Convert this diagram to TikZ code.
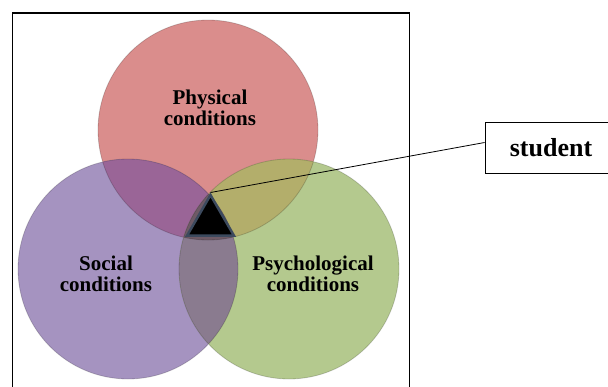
\documentclass[tikz,border=0pt]{standalone}
\usepackage{fontspec}
\setmainfont{Liberation Serif}
\usetikzlibrary{shapes.geometric}
\definecolor{physRed}{HTML}{DA8D8C}
\definecolor{socPurple}{HTML}{A593C0}
\definecolor{psyGreen}{HTML}{B4C98E}
\definecolor{redPurple}{HTML}{9A6597}
\definecolor{redGreen}{HTML}{B3AE6B}
\definecolor{purpleGreen}{HTML}{8A7B8F}
\definecolor{tripleMix}{HTML}{6E5A66}
\definecolor{triBorder}{HTML}{3C4A5E}

\begin{document}
\begin{tikzpicture}[x=1pt,y=-1pt,
  lbl/.style={font=\fontsize{21}{21}\selectfont\bfseries, align=center, inner sep=0pt},
  rim/.style={draw=black, draw opacity=0.18, line width=0.8pt}]
% Venn of three conditions round the student
\clip (0,0) rectangle (608,386);
\def\rC{110}
\coordinate (phys) at (208,130);
\coordinate (soc) at (128,269);
\coordinate (psy) at (289,269);
% outer frame
\draw[line width=1.3pt] (12.5,13) rectangle (409.5,392);
% plain circles
\fill[physRed] (phys) circle (\rC);
\fill[socPurple] (soc) circle (\rC);
\fill[psyGreen] (psy) circle (\rC);
% overlaps with the red one
\begin{scope}
  \clip (phys) circle (\rC);
  \fill[redPurple] (soc) circle (\rC);
  \fill[redGreen] (psy) circle (\rC);
\end{scope}
% purple and green
\begin{scope}
  \clip (soc) circle (\rC);
  \fill[purpleGreen] (psy) circle (\rC);
\end{scope}
% all three
\begin{scope}
  \clip (phys) circle (\rC);
  \clip (soc) circle (\rC);
  \fill[tripleMix] (psy) circle (\rC);
\end{scope}
\draw[rim] (phys) circle (\rC) (soc) circle (\rC) (psy) circle (\rC);
\node[lbl] (physical) at (210,108) {Physical\\conditions};
\node[lbl] (social) at (106,274) {Social\\conditions};
\node[lbl] (psycho) at (313,274) {Psychological\\conditions};
% the student in the middle
\node[regular polygon, regular polygon sides=3, minimum size=54, inner sep=0pt,
  fill=black, draw=triBorder, line width=2.5pt] (tri) at (210.5,222) {};
\node[draw, line width=0.8pt, minimum width=132, minimum height=51,
  font=\fontsize{26}{26}\selectfont\bfseries] (student) at (551,147.5) {student};
\draw[line width=0.8pt] (tri.corner 1) -- ([yshift=5pt]student.west);
\end{tikzpicture}
\end{document}
